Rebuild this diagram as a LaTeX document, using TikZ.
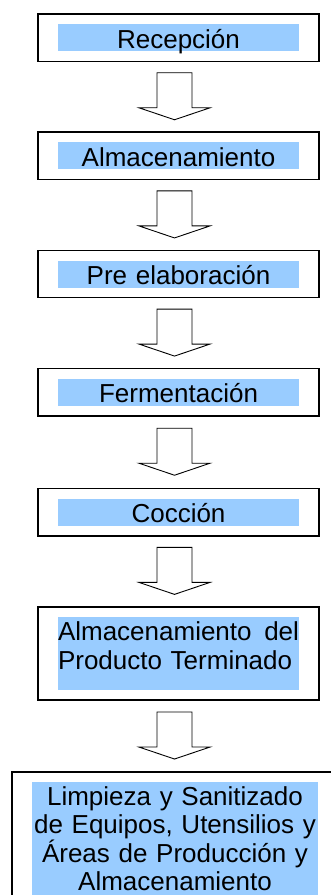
\documentclass[tikz,border=0pt]{standalone}
\usepackage{fontspec}
\setmainfont{Liberation Sans}
\usetikzlibrary{positioning, calc, fit}

\definecolor{stepBlue}{RGB}{153,204,255}

\tikzset{
    steptext/.style={fill=stepBlue, inner sep=0pt, text width=241pt, align=center,
        text height=24pt, text depth=3pt, font=\fontsize{26}{28.5}\selectfont},
    stepframe/.style={draw, line width=1.5pt, inner xsep=20pt, inner ysep=10pt},
    flowarrow/.style={draw, line width=0.9pt, fill=white}
}

% hollow block arrow between two frames
\newcommand{\blockarrow}[2]{%
    \coordinate (#1 mid) at ($(#1.south)!0.5!(#2.north)$);
    \path[flowarrow, shift={(#1.south |- #1 mid)}, xshift=-4pt]
        (-17.5,-24) -- (17.5,-24) -- (17.5,11) -- (35.5,11) -- (0,23)
        -- (-35.5,11) -- (-17.5,11) -- cycle;
}

\begin{document}
\begin{tikzpicture}[x=1pt, y=-1pt]
    \useasboundingbox (0,0) rectangle (331,895);
    \clip (0,0) rectangle (331,895);

    \node[steptext, anchor=north] (recepcion) at (178.5,24) {Recepción};
    \node[stepframe, fit=(recepcion)] (recepcion frame) {};

    \node[steptext, below=80pt of recepcion frame] (almacen) {Almacenamiento};
    \node[stepframe, fit=(almacen)] (almacen frame) {};

    \node[steptext, below=80pt of almacen frame] (prelab) {Pre elaboración};
    \node[stepframe, fit=(prelab)] (prelab frame) {};

    \node[steptext, below=80pt of prelab frame] (ferment) {Fermentación};
    \node[stepframe, fit=(ferment)] (ferment frame) {};

    \node[steptext, below=82pt of ferment frame] (coccion) {Cocción};
    \node[stepframe, fit=(coccion)] (coccion frame) {};

    \node[steptext, align=left, text depth=49pt, below=80pt of coccion frame]
        (producto) {Almacenamiento\hfill del\\Producto Terminado};
    \node[stepframe, fit=(producto)] (producto frame) {};

    \node[steptext, text width=286pt, text height=23pt, text depth=95pt,
        below=81pt of producto frame, xshift=-3.5pt]
        (limpieza) {Limpieza y Sanitizado\\de Equipos, Utensilios y\\Áreas de Producción y\\Almacenamiento};
    \node[stepframe, fit=(limpieza)] (limpieza frame) {};

    \blockarrow{recepcion frame}{almacen frame}
    \blockarrow{almacen frame}{prelab frame}
    \blockarrow{prelab frame}{ferment frame}
    \blockarrow{ferment frame}{coccion frame}
    \blockarrow{coccion frame}{producto frame}
    \blockarrow{producto frame}{limpieza frame}
\end{tikzpicture}
\end{document}
